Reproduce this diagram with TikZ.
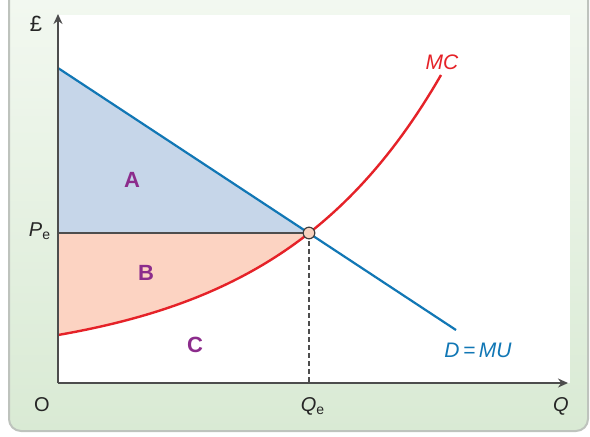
\documentclass[tikz,border=0pt]{standalone}
\usepackage{fontspec}
\setmainfont{Liberation Sans}
\usetikzlibrary{arrows.meta}
\definecolor{panelline}{HTML}{BEC3BD}
\definecolor{paneltop}{HTML}{F4F9F2}
\definecolor{panelbot}{HTML}{D9EAD4}
\definecolor{axisgrey}{HTML}{4D4D4D}
\definecolor{mublue}{HTML}{1177B5}
\definecolor{mcred}{HTML}{E52228}
\definecolor{areablue}{HTML}{C6D6E9}
\definecolor{areapink}{HTML}{FCD3C2}
\definecolor{lettpurple}{HTML}{8C2C8C}
\definecolor{dotfill}{HTML}{F8D2BE}
\newcommand{\mccurve}[1]{335-29.08*(exp(0.006*(#1-58))-1)}
\tikzset{
  axisline/.style={draw=axisgrey, line width=0.75pt, -{Stealth[length=5pt,width=4.5pt]}},
  curvelab/.style={font=\itshape\fontsize{10.5}{12}\selectfont, inner sep=0pt},
  arealab/.style={font=\bfseries\fontsize{11}{13}\selectfont, text=lettpurple, inner sep=0pt},
  axislab/.style={font=\fontsize{10}{12}\selectfont, text=black!85, inner sep=0pt}}

\begin{document}
\begin{tikzpicture}[x=0.5pt, y=-0.5pt]
    \useasboundingbox (0,0) rectangle (590,436);
    \clip (0,0) rectangle (590,436);
    % panel and plot area
    \shade[top color=paneltop, bottom color=panelbot, draw=panelline, line width=1pt,
           rounded corners=6pt] (9,-30) rectangle (588,431);
    \fill[white] (58,15) rectangle (570,383);
    % areas A and B
    \fill[areablue] (58,68) -- (309,233) -- (58,233) -- cycle;
    \fill[areapink] (58,233) -- plot[domain=58:309, samples=50] (\x, {\mccurve{\x}}) -- cycle;
    \draw[axisgrey, line width=0.75pt] (58,233) -- (309,233);
    \draw[axisgrey, line width=0.7pt, dash pattern=on 2.3pt off 1.7pt] (309,233) -- (309,383);
    % curves
    \draw[mublue, line width=1.1pt] (58,68) -- (456,330);
    \draw[mcred, line width=1.2pt] plot[domain=58:441, samples=80] (\x, {\mccurve{\x}});
    % axes
    \draw[axisline] (58,383) -- (58,14);
    \draw[axisline] (58,383) -- (568,383);
    \filldraw[fill=dotfill, draw=axisgrey!80!black, line width=0.6pt] (309,233) circle (2.9pt);
    % labels
    \node[axislab, font=\fontsize{11}{12}\selectfont] (pound) at (36,24) {£};
    \node[axislab] (origin) at (42,405) {O};
    \node[axislab] (qaxis) at (561,406) {\itshape Q};
    \node[axislab] (qe) at (313,406) {{\itshape Q}\textsubscript{e}};
    \node[axislab] (pe) at (40,231) {{\itshape P}\textsubscript{e}};
    \node[arealab] (areaA) at (132,180) {A};
    \node[arealab] (areaB) at (146,273) {B};
    \node[arealab] (areaC) at (195,345) {C};
    \node[curvelab, text=mcred] (mclab) at (442,62) {MC};
    \node[curvelab, text=mublue] (dlab) at (478,350) {D\,=\,MU};
\end{tikzpicture}
\end{document}
